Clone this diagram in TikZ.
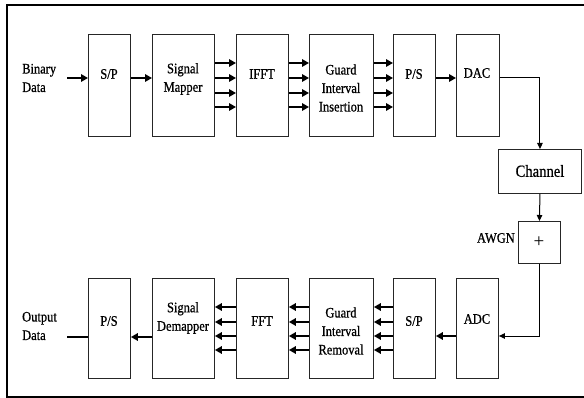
\documentclass[tikz,border=0pt]{standalone}
\usepackage{fontspec}
\setmainfont{Liberation Serif}
\newfontfamily\diafont{Liberation Serif}[FakeBold=0.8]
\usetikzlibrary{arrows.meta}
\newcommand\nar[1]{\scalebox{0.86}[1]{#1}}
\begin{document}
\begin{tikzpicture}[x=1pt,y=-1pt,
  box/.style={draw=black!85, line width=0.9pt, inner sep=0pt, anchor=north west},
  txt/.style={inner sep=0pt, align=center, font=\diafont\fontsize{14.5}{18.5}\selectfont},
  arr/.style={line width=1.6pt, -{Triangle[length=7pt,width=7.5pt]}},
  tarr/.style={line width=1pt, -{Triangle[length=6pt,width=5.5pt]}}]
\useasboundingbox (0,0) rectangle (584,398);
% frame
\draw[line width=2pt] (7,398) -- (7,5) -- (584,5);
\draw[line width=1.4pt] (6,397) -- (584,397);
% top row boxes
\node[box, minimum width=42pt, minimum height=102pt] (sp1) at (88,34) {};
\node[box, minimum width=62pt, minimum height=102pt] (map) at (152,34) {};
\node[box, minimum width=52pt, minimum height=102pt] (ifft) at (236,34) {};
\node[box, minimum width=64pt, minimum height=102pt] (gins) at (309,34) {};
\node[box, minimum width=42pt, minimum height=102pt] (ps1) at (393,34) {};
\node[box, minimum width=43pt, minimum height=102pt] (dac) at (456,34) {};
% channel and awgn
\node[box, minimum width=83pt, minimum height=44pt] (chan) at (498,149) {};
\node[box, minimum width=42pt, minimum height=42pt] (plus) at (518,221) {};
% bottom row boxes
\node[box, minimum width=42pt, minimum height=100pt] (ps2) at (88,278) {};
\node[box, minimum width=62pt, minimum height=100pt] (dem) at (152,278) {};
\node[box, minimum width=52pt, minimum height=100pt] (fft) at (236,278) {};
\node[box, minimum width=64pt, minimum height=100pt] (grem) at (309,278) {};
\node[box, minimum width=42pt, minimum height=100pt] (sp2) at (393,278) {};
\node[box, minimum width=42pt, minimum height=100pt] (adc) at (456,278) {};
% texts
\node[txt, align=left, anchor=west] (tbin) at (22,78) {\nar{Binary}\\\nar{Data}};
\node[txt] (tsp1) at (109,74) {\nar{S/P}};
\node[txt] (tmap) at (183,79) {\nar{Signal}\\\nar{Mapper}};
\node[txt] (tifft) at (262,74) {\nar{IFFT}};
\node[txt] (tgins) at (341,88) {\nar{Guard}\\\nar{Interval}\\\nar{Insertion}};
\node[txt] (tps1) at (414,74) {\nar{P/S}};
\node[txt] (tdac) at (477,73) {\nar{DAC}};
\node[txt, font=\diafont\fontsize{17}{19}\selectfont] (tchan) at (540,171) {\nar{Channel}};
\node[txt, font=\fontsize{19}{20}\selectfont] (tplus) at (539,242) {+};
\node[txt, anchor=east] (tawgn) at (515,238) {\nar{AWGN}};
\node[txt, align=left, anchor=west] (tout) at (22,326) {\nar{Output}\\\nar{Data}};
\node[txt] (tps2) at (109,321) {\nar{P/S}};
\node[txt] (tdem) at (183,318) {\nar{Signal}\\\nar{Demapper}};
\node[txt] (tfft) at (262,321) {\nar{FFT}};
\node[txt] (tgrem) at (341,331) {\nar{Guard}\\\nar{Interval}\\\nar{Removal}};
\node[txt] (tsp2) at (414,321) {\nar{S/P}};
\node[txt] (tadc) at (477,319) {\nar{ADC}};
% connectors top
\coordinate (bin) at (67,78);
\draw[arr] (bin) -- (sp1.west |- bin);
\draw[arr] (sp1.east |- bin) -- (map.west |- bin);
\foreach \yy in {63,78,93,107}{
  \draw[arr] (map.east |- 0,\yy) -- (ifft.west |- 0,\yy);
  \draw[arr] (ifft.east |- 0,\yy) -- (gins.west |- 0,\yy);
  \draw[arr] (gins.east |- 0,\yy) -- (ps1.west |- 0,\yy);
}
\draw[arr] (ps1.east |- bin) -- (dac.west |- bin);
\draw[tarr] (dac.east |- bin) -| (chan.north);
\draw[tarr] (chan.south) -- (plus.north);
\draw[tarr] (plus.south) |- (adc.east |- 0,336);
% connectors bottom
\draw[arr] (adc.west |- 0,336) -- (sp2.east |- 0,336);
\foreach \yy in {307,322,336,350}{
  \draw[arr] (sp2.west |- 0,\yy) -- (grem.east |- 0,\yy);
  \draw[arr] (grem.west |- 0,\yy) -- (fft.east |- 0,\yy);
  \draw[arr] (fft.west |- 0,\yy) -- (dem.east |- 0,\yy);
}
\draw[arr] (dem.west |- 0,337) -- (ps2.east |- 0,337);
\coordinate (outend) at (67,337);
\draw[line width=1.2pt] (ps2.west |- outend) -- (outend);
\end{tikzpicture}
\end{document}
